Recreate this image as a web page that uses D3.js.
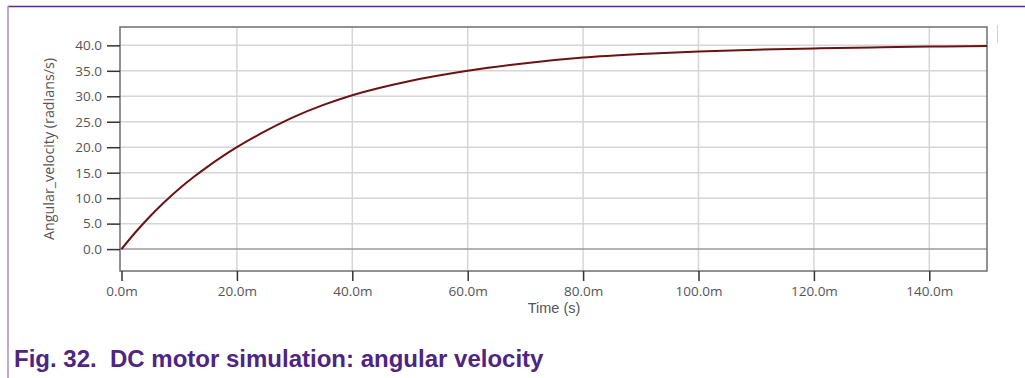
<!DOCTYPE html>
<html>
<head>
<meta charset="utf-8">
<script src="https://cdn.jsdelivr.net/npm/d3@7"></script>
<style>
  body { margin: 0; background: #fff; }
  svg { display: block; }
</style>
</head>
<body>
<div class="chart"></div>
<script>
// time in ms, angular velocity in rad/s
const timeMs = [0, 2.5, 5, 7.5, 10, 12.5, 15, 17.5, 20, 25, 30, 35, 40, 50, 60, 70, 80, 90, 100, 110, 120, 130, 140, 150];
const velocity = [0, 3.4, 6.5, 9.3, 11.85, 14.15, 16.25, 18.2, 20.0, 23.2, 26.0, 28.3, 30.2, 33.0, 35.0, 36.5, 37.6, 38.3, 38.8, 39.15, 39.4, 39.6, 39.75, 39.85];
const xTicks = [0, 20, 40, 60, 80, 100, 120, 140];
const yTicks = [0, 5, 10, 15, 20, 25, 30, 35, 40];

const W = 1025, H = 378;
const plot = { left: 120, top: 27, right: 987, bottom: 271 };
const axisFont = "'Open Sans', sans-serif";

const svg = d3.select(".chart").append("svg")
  .attr("width", W)
  .attr("height", H);

// page frame lines
svg.append("line")
  .attr("x1", 8).attr("y1", 6.5).attr("x2", W).attr("y2", 6.5)
  .attr("stroke", "#5b2c8f").attr("stroke-width", 1.5);
svg.append("line")
  .attr("x1", 8).attr("y1", 6).attr("x2", 8).attr("y2", H)
  .attr("stroke", "#a98fcb").attr("stroke-width", 1.5);

// little grey mark at top right
svg.append("line")
  .attr("x1", 997.5).attr("y1", 25).attr("x2", 997.5).attr("y2", 43)
  .attr("stroke", "#d0d0d0");

const x = d3.scaleLinear().domain([-0.26, 150]).range([plot.left, plot.right]);
const y = d3.scaleLinear().domain([-4.3, 43.6]).range([plot.bottom, plot.top]);

// grid
svg.append("g").selectAll("line")
  .data(xTicks.filter(d => d > 0))
  .join("line")
  .attr("x1", d => x(d)).attr("x2", d => x(d))
  .attr("y1", plot.top).attr("y2", plot.bottom)
  .attr("stroke", "#d6d6d6").attr("stroke-width", 1.5);

svg.append("g").selectAll("line")
  .data(yTicks)
  .join("line")
  .attr("x1", plot.left).attr("x2", plot.right)
  .attr("y1", d => y(d)).attr("y2", d => y(d))
  .attr("stroke", d => d === 0 ? "#9a9a9a" : "#d6d6d6")
  .attr("stroke-width", 1.5);

// plot frame
svg.append("rect")
  .attr("x", plot.left).attr("y", plot.top)
  .attr("width", plot.right - plot.left)
  .attr("height", plot.bottom - plot.top)
  .attr("fill", "none")
  .attr("stroke", "#6e6e6e")
  .attr("stroke-width", 1.5);

// axes
const xAxis = svg.append("g")
  .attr("transform", `translate(0,${plot.bottom})`)
  .call(d3.axisBottom(x).tickValues(xTicks).tickSize(10).tickSizeOuter(0).tickPadding(5)
    .tickFormat(d => d3.format(".1f")(d) + "m"));

const yAxis = svg.append("g")
  .attr("transform", `translate(${plot.left},0)`)
  .call(d3.axisLeft(y).tickValues(yTicks).tickSize(13).tickSizeOuter(0).tickPadding(5)
    .tickFormat(d3.format(".1f")));

[xAxis, yAxis].forEach(a => {
  a.select(".domain").remove();
  a.selectAll(".tick line").attr("stroke", "#333").attr("stroke-width", 1.5);
  a.selectAll(".tick text")
    .attr("fill", "#555")
    .attr("font-family", axisFont)
    .attr("font-size", "13.5px");
});

// axis titles
svg.append("text")
  .attr("x", 554)
  .attr("y", 313)
  .attr("text-anchor", "middle")
  .attr("font-family", "'Liberation Sans', Arial, sans-serif")
  .attr("font-size", "14.5px")
  .attr("fill", "#555")
  .text("Time (s)");

svg.append("text")
  .attr("transform", "rotate(-90)")
  .attr("x", -149)
  .attr("y", 54)
  .attr("text-anchor", "middle")
  .attr("font-family", axisFont)
  .attr("font-size", "14.3px")
  .attr("fill", "#555")
  .text("Angular_velocity (radians/s)");

// curve
const line = d3.line()
  .x((d, i) => x(timeMs[i]))
  .y(d => y(d))
  .curve(d3.curveMonotoneX);

svg.append("path")
  .datum(velocity)
  .attr("d", line)
  .attr("fill", "none")
  .attr("stroke", "#6b1212")
  .attr("stroke-width", 2);

// caption
svg.append("text")
  .attr("x", 14)
  .attr("y", 367)
  .attr("font-family", "'Liberation Sans', Arial, sans-serif")
  .attr("font-weight", "bold")
  .attr("font-size", "24px")
  .attr("fill", "#4e2583")
  .attr("xml:space", "preserve")
  .text("Fig. 32.  DC motor simulation: angular velocity");
</script>
</body>
</html>
